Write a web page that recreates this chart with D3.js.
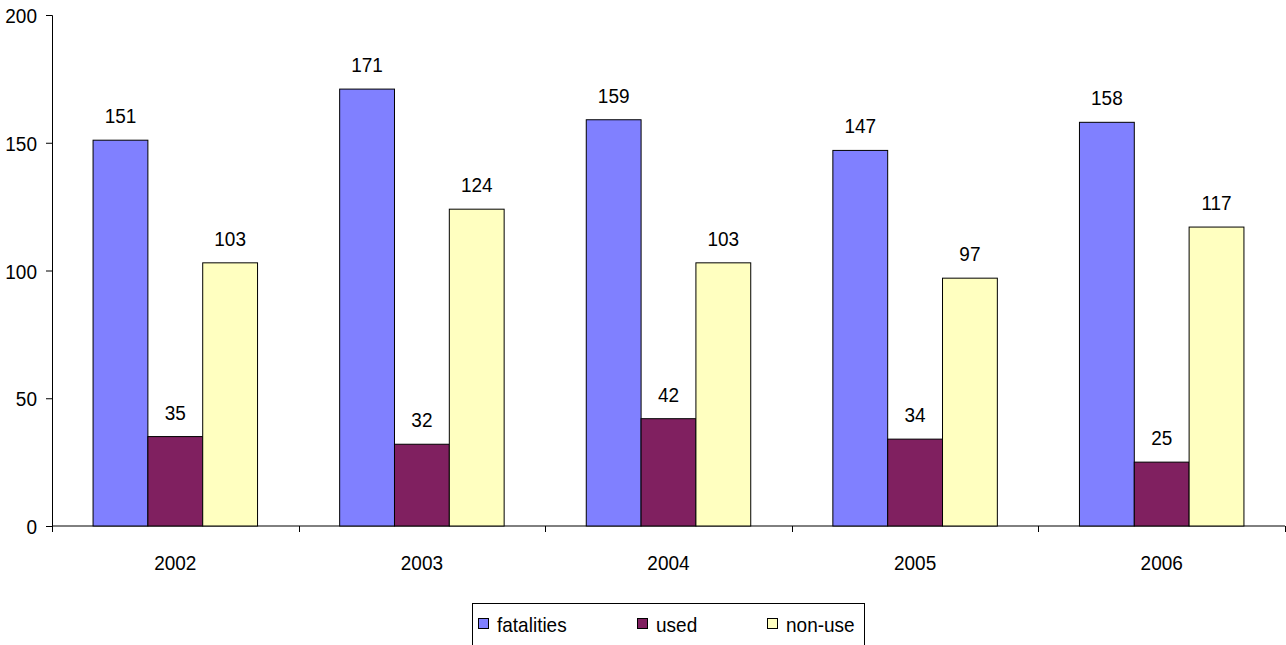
<!DOCTYPE html>
<html><head><meta charset="utf-8">
<script src="https://cdn.jsdelivr.net/npm/d3@7"></script>
<style>body{margin:0;background:#fff}svg{display:block;font-family:"Liberation Sans",Arial,sans-serif}</style>
</head><body>
<svg id="c" width="1286" height="645"></svg>
<script>
const years = ["2002","2003","2004","2005","2006"];
const seriesNames = ["fatalities","used","non-use"];
const fatalities = [151,171,159,147,158];
const used = [35,32,42,34,25];
const nonUse = [103,124,103,97,117];
const yTicks = [0,50,100,150,200];
const colors = ["#8080FF","#802060","#FFFFC0"];

(function(){
const svg = d3.select("#c");
const mLeft = 52, mRight = 1285, mTop = 15, mBottom = 526;
const fs = 19, sy = 1.1;
const y = d3.scaleLinear().domain([0,200]).range([mBottom, mTop]);
const p = 0.333;
const x0 = d3.scaleBand().domain(years).range([mLeft,mRight]).paddingInner(p).paddingOuter(p/2);
const x1 = d3.scaleBand().domain(seriesNames).range([0, x0.bandwidth()]);
const data = [fatalities, used, nonUse];

// y axis
const yAx = svg.append("g").attr("transform",`translate(${mLeft},0)`)
  .call(d3.axisLeft(y).tickValues(yTicks).tickSize(6).tickPadding(9));
yAx.select(".domain").attr("stroke","#000");
yAx.selectAll(".tick line").attr("stroke","#000");
yAx.selectAll("text").attr("font-size",fs).attr("fill","#000").attr("font-family","Liberation Sans, Arial, sans-serif")
  .attr("x",0).attr("y",0).attr("dy",null).attr("transform",`translate(-15,7.5) scale(1,${sy})`);

// x axis
const xAx = svg.append("g").attr("transform",`translate(0,${mBottom})`)
  .call(d3.axisBottom(x0).tickSize(0));
xAx.select(".domain").attr("stroke","#000").attr("d",`M${mLeft},0H${mRight}`);
xAx.selectAll("text").attr("font-size",fs).attr("fill","#000").attr("font-family","Liberation Sans, Arial, sans-serif")
  .attr("y",0).attr("dy",null).attr("transform",`translate(0,44) scale(1,${sy})`);
const step = x0.step();
const bounds = years.map((d,i)=> x0(d) - step*p/2).concat([x0(years[years.length-1]) + x0.bandwidth() + step*p/2]);
xAx.selectAll(".bnd").data(bounds).enter().append("line")
  .attr("x1",d=>Math.round(d)+0.5).attr("x2",d=>Math.round(d)+0.5).attr("y1",0).attr("y2",6).attr("stroke","#000");

// bars
seriesNames.forEach((s,si)=>{
  const g = svg.append("g");
  g.selectAll("rect").data(data[si]).enter().append("rect")
    .attr("x",(d,i)=> x0(years[i]) + x1(s))
    .attr("y",d=> y(d))
    .attr("width", x1.bandwidth())
    .attr("height", d=> y(0)-y(d))
    .attr("fill", colors[si]).attr("stroke","#000").attr("stroke-width",1);
  g.selectAll("text").data(data[si]).enter().append("text")
    .attr("transform",(d,i)=> `translate(${x0(years[i]) + x1(s) + x1.bandwidth()/2},${y(d) - 17}) scale(1,${sy})`)
    .attr("text-anchor","middle").attr("font-size",fs).attr("fill","#000")
    .text(d=>d);
});

// legend
const lg = svg.append("g");
lg.append("rect").attr("x",472.5).attr("y",603.5).attr("width",392).attr("height",50)
  .attr("fill","#fff").attr("stroke","#000");
const lx = [478, 637, 767];
seriesNames.forEach((s,i)=>{
  lg.append("rect").attr("x",lx[i]+0.5).attr("y",618.5).attr("width",10).attr("height",10)
    .attr("fill",colors[i]).attr("stroke","#000");
  lg.append("text").attr("transform",`translate(${lx[i]+19},632) scale(1,${sy})`)
    .attr("font-size",fs).attr("fill","#000").text(s);
});
})();
</script>
</body></html>
